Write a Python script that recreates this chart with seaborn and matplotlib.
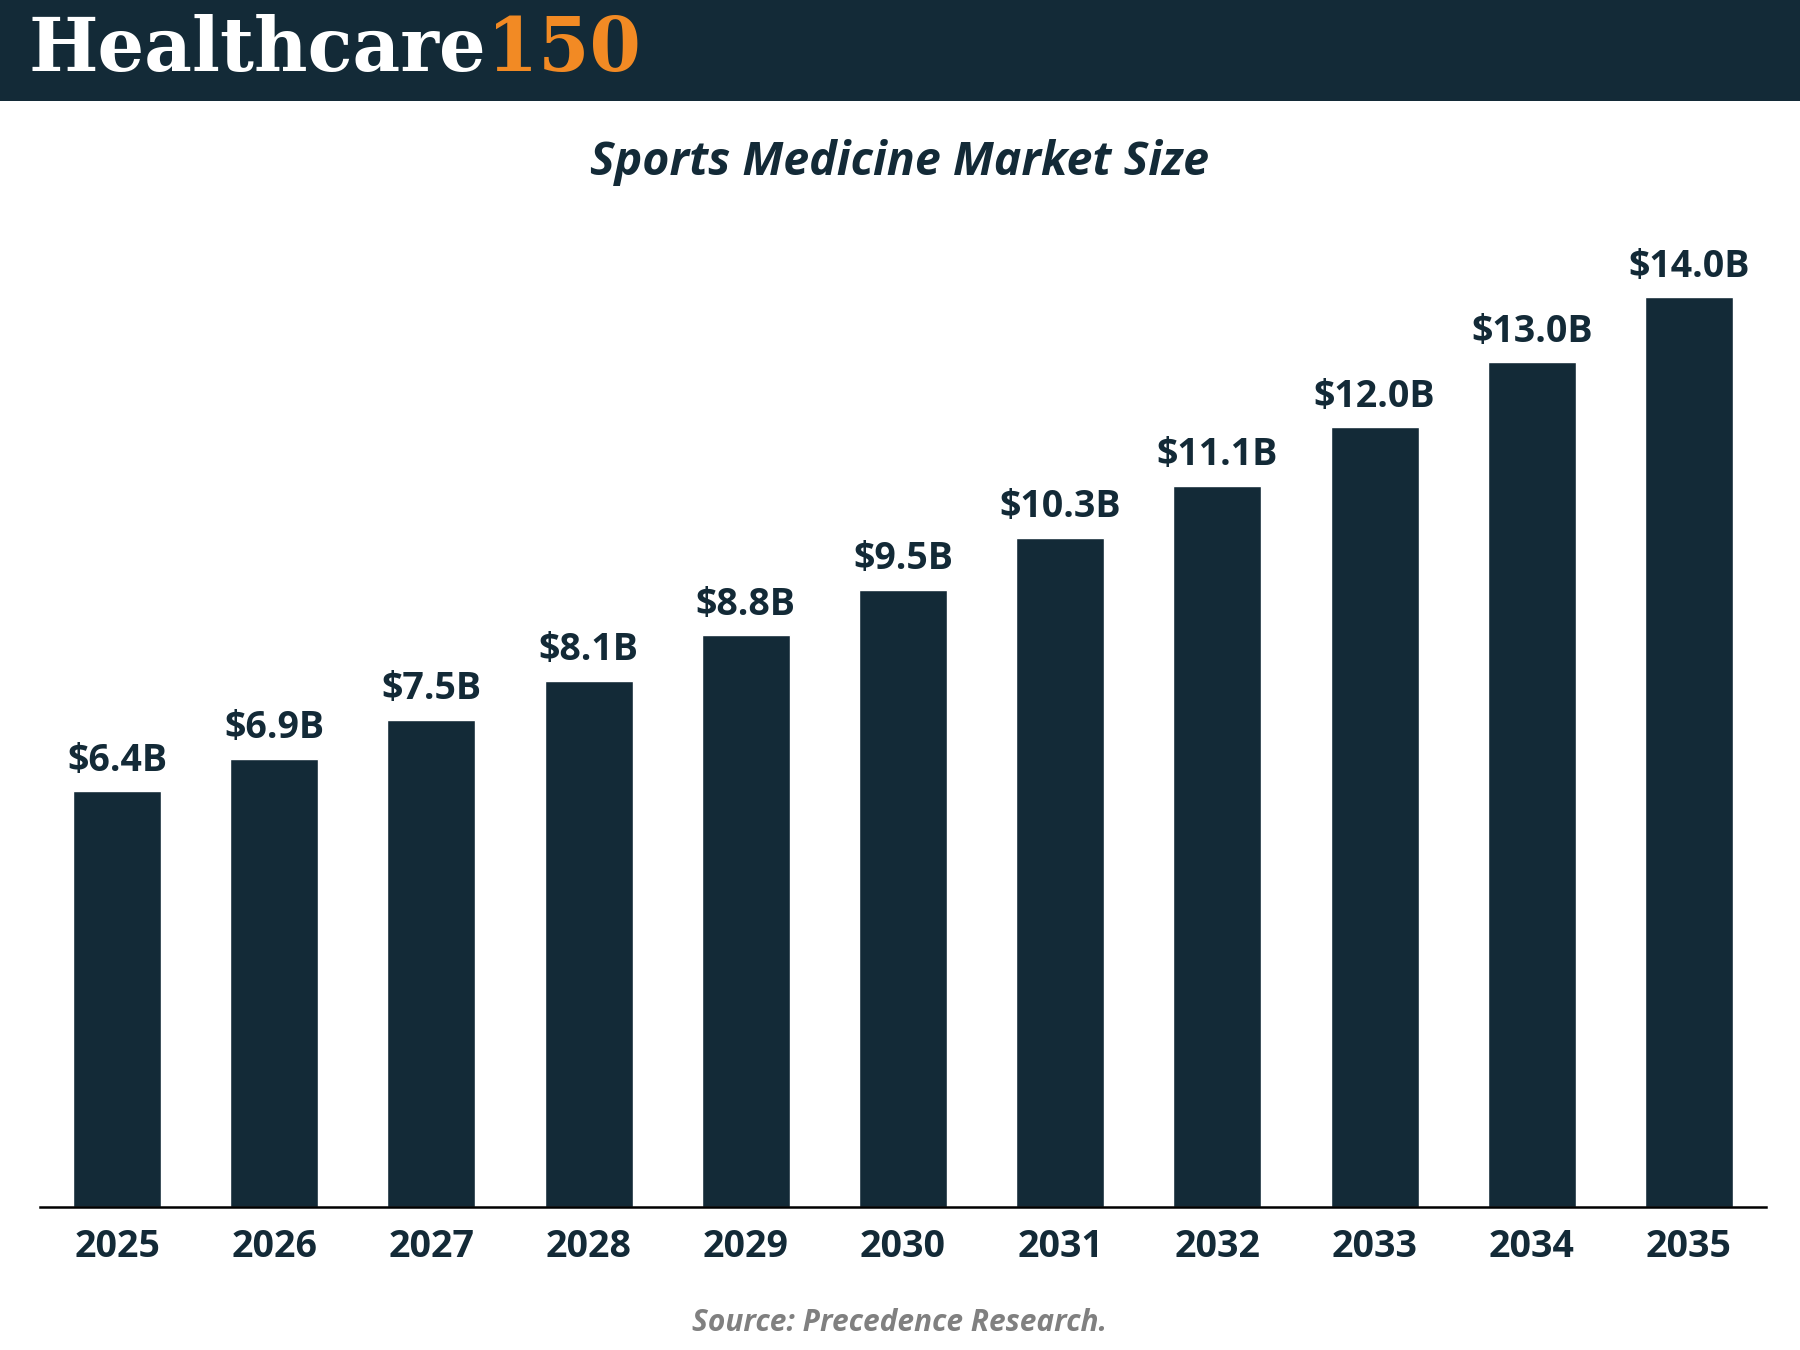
import matplotlib
matplotlib.use("Agg")
import matplotlib.pyplot as plt
import seaborn as sns
import pandas as pd
from matplotlib.patches import Rectangle

years = ["2025", "2026", "2027", "2028", "2029", "2030", "2031", "2032", "2033", "2034", "2035"]
market_size = [6.4, 6.9, 7.5, 8.1, 8.8, 9.5, 10.3, 11.1, 12.0, 13.0, 14.0]
value_labels = ["$6.4B", "$6.9B", "$7.5B", "$8.1B", "$8.8B", "$9.5B", "$10.3B",
                "$11.1B", "$12.0B", "$13.0B", "$14.0B"]
title = "Sports Medicine Market Size"
source = "Source: Precedence Research."

navy = "#132a37"
orange = "#f28a24"

sns.set_theme(style="white")
plt.rcParams["font.family"] = ["Open Sans", "DejaVu Sans"]

df = pd.DataFrame({"year": years, "size": market_size})

fig = plt.figure(figsize=(18, 13.5), dpi=100)
W, H = 1800, 1350

# header band with logo
fig.patches.append(Rectangle((0, 1 - 101 / H), 1, 101 / H, transform=fig.transFigure,
                             facecolor=navy, edgecolor="none", zorder=0))
logo = fig.text(29 / W, 1 - 50 / H, "Healthcare", color="white", fontsize=53,
                fontweight="bold", family="DejaVu Serif", va="center", ha="left")
fig.canvas.draw()
bb = logo.get_window_extent(renderer=fig.canvas.get_renderer())
fig.text(bb.x1 / W, 1 - 50 / H, "150", color=orange, fontsize=53,
         fontweight="bold", family="DejaVu Serif", va="center", ha="left")

fig.text(0.5, 1 - 163 / H, title, ha="center", va="center", fontsize=33.5,
         fontweight="bold", fontstyle="italic", color=navy)
fig.text(0.5, 1 - 1323 / H, source, ha="center", va="center", fontsize=21.5,
         fontweight="bold", fontstyle="italic", color="#808080")

ax_bottom = (H - 1207) / H
ymax = 15.2
ax_top = (H - (1207 - ymax * 65)) / H
ax = fig.add_axes([40 / W, ax_bottom, (1766 - 40) / W, ax_top - ax_bottom])

sns.barplot(data=df, x="year", y="size", color=navy, saturation=1, width=0.56, ax=ax)
ax.bar_label(ax.containers[0], labels=value_labels, padding=8, fontsize=27,
             fontweight="bold", color=navy)

ax.set_xlim(-0.49, len(years) - 0.51)
ax.set_ylim(0, ymax)
ax.set_xlabel("")
ax.set_ylabel("")
ax.set_yticks([])
for side in ["top", "left", "right"]:
    ax.spines[side].set_visible(False)
ax.spines["bottom"].set_color("black")
ax.spines["bottom"].set_linewidth(1.8)
ax.tick_params(axis="x", length=0, pad=15, labelsize=27, labelcolor=navy)
for lab in ax.get_xticklabels():
    lab.set_fontweight("bold")

fig.savefig("out.png", dpi=100)
